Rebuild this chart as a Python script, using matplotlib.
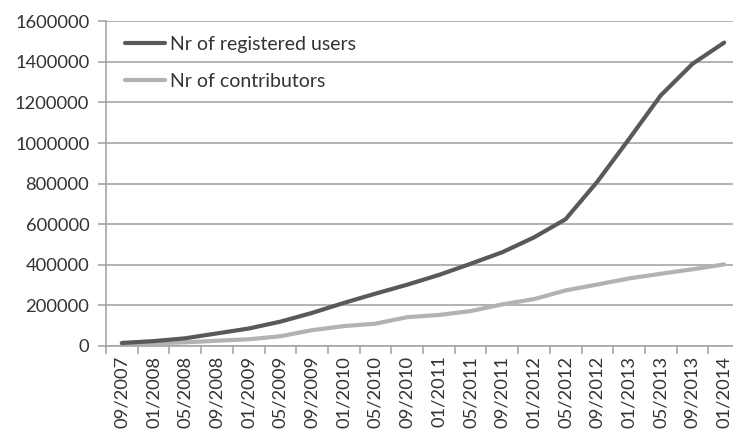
import matplotlib
matplotlib.use("Agg")
import matplotlib.pyplot as plt
from matplotlib.ticker import FixedLocator, NullFormatter, FixedFormatter

plt.rcParams['font.family'] = ['Lato', 'DejaVu Sans']

months = ["09/2007", "01/2008", "05/2008", "09/2008", "01/2009", "05/2009",
          "09/2009", "01/2010", "05/2010", "09/2010", "01/2011", "05/2011",
          "09/2011", "01/2012", "05/2012", "09/2012", "01/2013", "05/2013",
          "09/2013", "01/2014"]
registered_users = [15000, 24000, 38000, 62000, 86000, 120000, 163000, 212000,
                    258000, 302000, 350000, 405000, 462000, 535000, 625000,
                    810000, 1020000, 1235000, 1390000, 1495000]
contributors = [9000, 13000, 18000, 26000, 33000, 48000, 78000, 98000,
                110000, 142000, 153000, 172000, 205000, 231000, 274000,
                303000, 333000, 356000, 378000, 402000]
y_ticks = [0, 200000, 400000, 600000, 800000, 1000000, 1200000, 1400000, 1600000]

W, H = 733, 430
fig = plt.figure(figsize=(W / 100, H / 100), dpi=100)
left, right, top, bottom = 106, 740, 21.3, 346
ax = fig.add_axes([left / W, (H - bottom) / H, (right - left) / W, (bottom - top) / H])

text_color = "#333333"
grid_color = "#a6a6a6"
fs = 13.2
leg_fs = 14

x = list(range(len(months)))
ax.plot(x, registered_users, color="#595959", lw=3.0, solid_capstyle="round",
        label="Nr of registered users", zorder=3)
ax.plot(x, contributors, color="#b2b2b2", lw=3.0, solid_capstyle="round",
        label="Nr of contributors", zorder=2)

ax.set_xlim(-0.5, len(months) - 0.5)
ax.set_ylim(0, 1600000)

# category labels at centres, tick marks on the boundaries
ax.xaxis.set_major_locator(FixedLocator([i - 0.5 for i in range(len(months) + 1)]))
ax.xaxis.set_major_formatter(NullFormatter())
ax.xaxis.set_minor_locator(FixedLocator(x))
ax.xaxis.set_minor_formatter(FixedFormatter(months))
ax.tick_params(axis="x", which="major", direction="out", length=6, width=1.2,
               color=grid_color)
ax.tick_params(axis="x", which="minor", length=0, pad=7, labelrotation=90,
               labelsize=fs, labelcolor=text_color)

ax.set_yticks(y_ticks)
ax.set_yticklabels([str(v) for v in y_ticks])
ax.tick_params(axis="y", direction="out", length=6, width=1.2, color=grid_color,
               labelsize=fs, labelcolor=text_color, pad=6)

ax.grid(axis="y", color=grid_color, lw=1.2)
ax.set_axisbelow(True)
for side in ("top", "right"):
    ax.spines[side].set_visible(False)
for side in ("left", "bottom"):
    ax.spines[side].set_color(grid_color)
    ax.spines[side].set_linewidth(1.2)

leg = ax.legend(loc="upper left", bbox_to_anchor=(125 / W, 1 - 36 / H),
                bbox_transform=fig.transFigure, frameon=False, fontsize=leg_fs,
                handlelength=2.06, handletextpad=0.26, labelspacing=1.03,
                borderpad=0, borderaxespad=0)
for t in leg.get_texts():
    t.set_color(text_color)

fig.savefig("out.png", dpi=100)
